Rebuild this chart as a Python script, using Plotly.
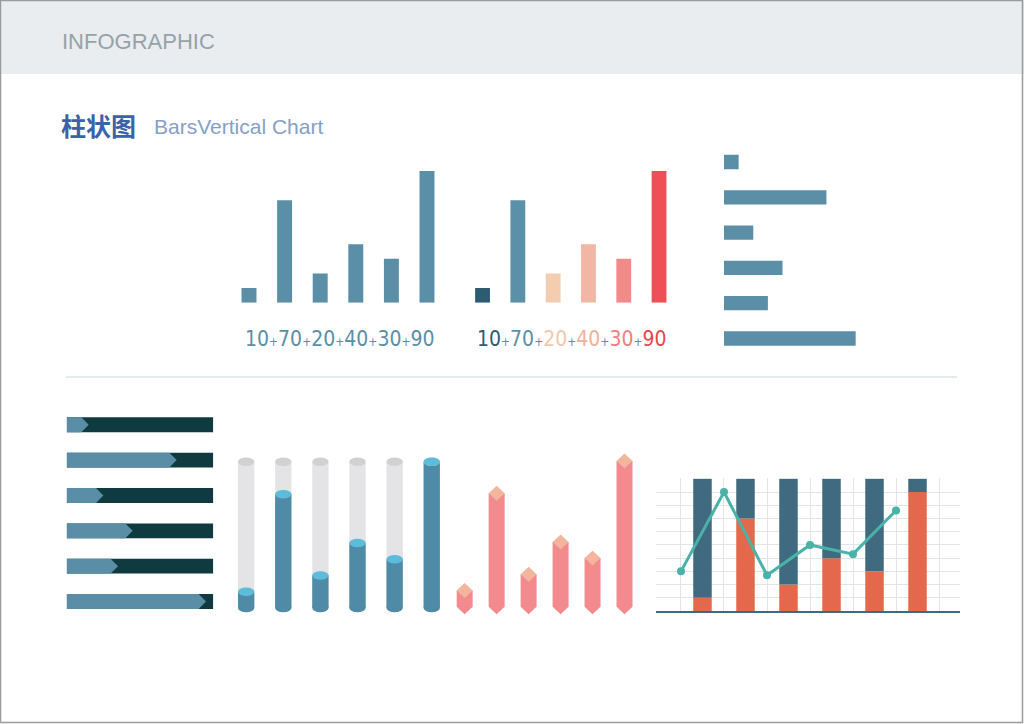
import plotly.graph_objects as go

W, H = 1024, 724

# ---------------- data ----------------
values = [10, 70, 20, 40, 30, 90]
value_labels = ["10", "70", "20", "40", "30", "90"]
line_values = [30, 90, 27, 50, 43, 76]
full_value = 100
cyl_max = 90

teal = "#5a8fa7"
multi_bar_colors = ["#2c5b72", "#5a90a8", "#f4cdb0", "#f1b6a4", "#f28a8a", "#ef4f57"]
multi_label_colors = ["#2c5b72", "#5a90a8", "#f2c9aa", "#efb09e", "#ef8080", "#e8454f"]
arrow_light = "#5a8ea6"
arrow_dark = "#0f3a3f"
cyl_gray, cyl_gray_top = "#e4e4e6", "#d1d1d3"
cyl_blue, cyl_blue_top = "#4f8ba6", "#5cbcda"
pink_body, pink_cap = "#f38a8d", "#f3b69c"
stack_dark, stack_orange = "#3f6a7f", "#e4694c"
line_color = "#4ab3a9"

idx = list(range(len(values)))


def xd(a, b):
    return [a / W, b / W]


def yd(top, bottom):
    return [1 - bottom / H, 1 - top / H]


fig = go.Figure()
hidden = dict(visible=False, fixedrange=True)

# ---------- Panel A: simple vertical bars ----------
fig.add_trace(go.Bar(x=idx, y=values, width=0.42, marker=dict(color=teal, line_width=0),
                     xaxis="x", yaxis="y", showlegend=False, hoverinfo="skip"))

# ---------- Panel B: multicolour vertical bars ----------
fig.add_trace(go.Bar(x=idx, y=values, width=0.42, marker=dict(color=multi_bar_colors, line_width=0),
                     xaxis="x2", yaxis="y2", showlegend=False, hoverinfo="skip"))

# ---------- Panel C: horizontal bars ----------
fig.add_trace(go.Bar(x=values, y=idx, orientation="h", width=0.405,
                     marker=dict(color=teal, line_width=0),
                     xaxis="x3", yaxis="y3", showlegend=False, hoverinfo="skip"))

# ---------- Panel D: arrow progress bars ----------
fig.add_trace(go.Bar(x=[full_value] * len(values), y=idx, orientation="h", width=0.42,
                     marker=dict(color=arrow_dark, line_width=0),
                     xaxis="x4", yaxis="y4", showlegend=False, hoverinfo="skip"))
hh = 0.21
tip = 5
for i, v in zip(idx, values):
    fig.add_trace(go.Scatter(
        x=[0, v, v + tip, v, 0, 0], y=[i - hh, i - hh, i, i + hh, i + hh, i - hh],
        mode="lines", fill="toself", fillcolor=arrow_light, line=dict(width=0, color=arrow_light),
        xaxis="x4", yaxis="y4", showlegend=False, hoverinfo="skip"))

# ---------- Panel E: cylinders ----------
cw = 0.44
ery = 2.6
fig.add_trace(go.Bar(x=idx, y=[cyl_max] * len(values), width=cw, marker=dict(color=cyl_gray, line_width=0),
                     xaxis="x5", yaxis="y5", showlegend=False, hoverinfo="skip"))
fig.add_trace(go.Bar(x=idx, y=values, width=cw, marker=dict(color=cyl_blue, line_width=0),
                     xaxis="x5", yaxis="y5", showlegend=False, hoverinfo="skip"))
shapes = []
for i, v in zip(idx, values):
    shapes.append(dict(type="circle", xref="x5", yref="y5", x0=i - cw / 2, x1=i + cw / 2,
                       y0=cyl_max - ery, y1=cyl_max + ery, fillcolor=cyl_gray_top, line_width=0))
for i, v in zip(idx, values):
    shapes.append(dict(type="circle", xref="x5", yref="y5", x0=i - cw / 2, x1=i + cw / 2,
                       y0=-ery, y1=ery, fillcolor=cyl_blue, line_width=0))
    shapes.append(dict(type="circle", xref="x5", yref="y5", x0=i - cw / 2, x1=i + cw / 2,
                       y0=v - ery, y1=v + ery, fillcolor=cyl_blue_top, line_width=0))

# ---------- Panel F: diamond-capped prisms ----------
pw = 0.25
dh = 4.6
for i, v in zip(idx, values):
    fig.add_trace(go.Scatter(
        x=[i - pw, i - pw, i, i + pw, i + pw, i - pw], y=[v, 0, -dh, 0, v, v],
        mode="lines", fill="toself", fillcolor=pink_body, line=dict(width=0, color=pink_body),
        xaxis="x6", yaxis="y6", showlegend=False, hoverinfo="skip"))
    fig.add_trace(go.Scatter(
        x=[i, i + pw, i, i - pw, i], y=[v + dh, v, v - dh, v, v + dh],
        mode="lines", fill="toself", fillcolor=pink_cap, line=dict(width=0, color=pink_cap),
        xaxis="x6", yaxis="y6", showlegend=False, hoverinfo="skip"))

# ---------- Panel G: stacked bars + line ----------
fig.add_trace(go.Bar(x=idx, y=values, width=0.43, marker=dict(color=stack_orange, line_width=0),
                     xaxis="x7", yaxis="y7", showlegend=False, hoverinfo="skip"))
fig.add_trace(go.Bar(x=idx, y=[full_value - v for v in values], base=values, width=0.43,
                     marker=dict(color=stack_dark, line_width=0),
                     xaxis="x7", yaxis="y7", showlegend=False, hoverinfo="skip"))
fig.add_trace(go.Scatter(x=[i - 0.5 for i in idx], y=line_values, mode="lines+markers",
                         line=dict(color=line_color, width=3),
                         marker=dict(color=line_color, size=8),
                         xaxis="x7", yaxis="y7", showlegend=False, hoverinfo="skip"))

# ---------- decorations ----------
shapes = [
    dict(type="rect", xref="paper", yref="paper", x0=0, x1=1, y0=1 - 74 / H, y1=1,
         fillcolor="#e9edf0", line_width=0, layer="below"),
    dict(type="line", xref="paper", yref="paper", x0=66 / W, x1=957 / W, y0=1 - 377 / H, y1=1 - 377 / H,
         line=dict(color="#c9d9dd", width=1), layer="below"),
    dict(type="rect", xref="paper", yref="paper", x0=0.5 / W, x1=1 - 1.5 / W, y0=1.5 / H, y1=1 - 0.5 / H,
         line=dict(color="#9b9b9b", width=1.5), layer="above"),
] + shapes


def num_label(colors, plus_color):
    parts = []
    for lab, c in zip(value_labels, colors):
        parts.append(f'<span style="color:{c};font-stretch:condensed">{lab}</span>')
    plus = f'<span style="font-size:12px;font-stretch:condensed;color:{plus_color}">+</span>'
    return plus.join(parts)


label_font = "DejaVu Sans Condensed, DejaVu Sans, sans-serif"
annotations = [
    dict(text="INFOGRAPHIC", x=60 / W, y=1 - 41 / H, xref="paper", yref="paper",
         xanchor="left", yanchor="middle", showarrow=False,
         font=dict(family="Liberation Sans, Arial, sans-serif", size=22, color="#96a2aa")),
    dict(text="<b>柱状图</b>", x=59 / W, y=1 - 125 / H, xref="paper", yref="paper",
         xanchor="left", yanchor="middle", showarrow=False,
         font=dict(family="Noto Sans CJK SC", size=25, color="#3a63a6")),
    dict(text="BarsVertical Chart", x=152 / W, y=1 - 126 / H, xref="paper", yref="paper",
         xanchor="left", yanchor="middle", showarrow=False,
         font=dict(family="Liberation Sans, Arial, sans-serif", size=21, color="#86a0c8")),
    dict(text=num_label([teal] * 6, teal), x=340 / W, y=1 - 339 / H, xref="paper", yref="paper",
         xanchor="center", yanchor="middle", showarrow=False,
         font=dict(family=label_font, size=21, color=teal)),
    dict(text=num_label(multi_label_colors, "#5a90a8"), x=572 / W, y=1 - 339 / H, xref="paper", yref="paper",
         xanchor="center", yanchor="middle", showarrow=False,
         font=dict(family=label_font, size=21, color=teal)),
]

fig.update_layout(
    width=W, height=H, margin=dict(l=0, r=0, t=0, b=0),
    paper_bgcolor="white", plot_bgcolor="rgba(0,0,0,0)",
    barmode="overlay", showlegend=False,
    shapes=shapes, annotations=annotations,
    # A
    xaxis=dict(domain=xd(231.2, 444.8), range=[-0.5, 5.5], anchor="y", **hidden),
    yaxis=dict(domain=yd(156.4, 302.7), range=[0, 100], anchor="x", **hidden),
    # B
    xaxis2=dict(domain=xd(464.9, 676.7), range=[-0.5, 5.5], anchor="y2", **hidden),
    yaxis2=dict(domain=yd(156.4, 302.7), range=[0, 100], anchor="x2", **hidden),
    # C
    xaxis3=dict(domain=xd(724, 870.3), range=[0, 100], anchor="y3", **hidden),
    yaxis3=dict(domain=yd(144.35, 356.15), range=[5.5, -0.5], anchor="x3", **hidden),
    # D
    xaxis4=dict(domain=xd(66.7, 213.3), range=[0, 100], anchor="y4", **hidden),
    yaxis4=dict(domain=yd(407.1, 619.2), range=[5.5, -0.5], anchor="x4", **hidden),
    # E
    xaxis5=dict(domain=xd(227.6, 450.3), range=[-0.5, 5.5], anchor="y5", **hidden),
    yaxis5=dict(domain=yd(445.5, 624.25), range=[-10, 100], anchor="x5", **hidden),
    # F
    xaxis6=dict(domain=xd(448.7, 640.5), range=[-0.5, 5.5], anchor="y6", **hidden),
    yaxis6=dict(domain=yd(444.7, 622.9), range=[-10, 100], anchor="x6", **hidden),
    # G
    xaxis7=dict(domain=xd(656, 960), range=[-1.081, 5.988], anchor="y7",
                showgrid=True, gridcolor="#e1e5e8", gridwidth=1, tick0=0.5, dtick=1,
                zeroline=False, showticklabels=False, ticks="",
                showline=True, linecolor="#3f6b80", linewidth=1.5, fixedrange=True),
    yaxis7=dict(domain=yd(478.3, 611), range=[0, 100.4], anchor="x7",
                showgrid=True, gridcolor="#e1e5e8", gridwidth=1, tick0=0, dtick=10,
                zeroline=False, showticklabels=False, ticks="", showline=False, fixedrange=True),
)

fig.write_html(
    "out.html",
    config={"displayModeBar": False},
    post_script="document.body.style.margin='0';document.body.style.overflow='hidden';",
)
